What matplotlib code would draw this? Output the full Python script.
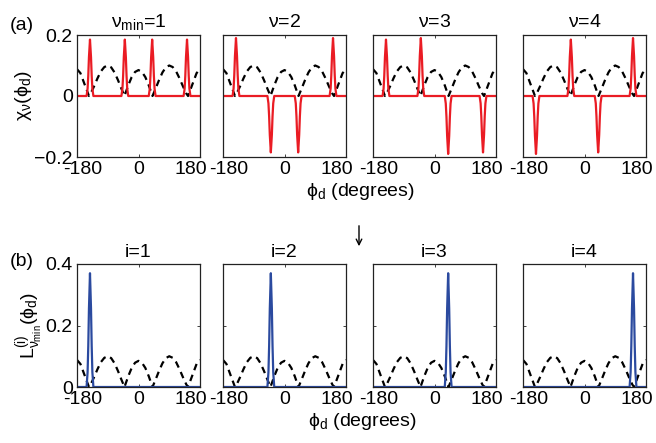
import matplotlib
matplotlib.use("Agg")
import matplotlib.pyplot as plt
import matplotlib.transforms as mtrans

plt.rcParams["font.family"] = ["Liberation Sans", "DejaVu Sans"]
plt.rcParams["mathtext.fontset"] = "custom"
plt.rcParams["mathtext.rm"] = "Liberation Sans"
plt.rcParams["mathtext.it"] = "Liberation Sans"
plt.rcParams["mathtext.default"] = "regular"

# Dashed reference curve (same in every panel)
phi_dash = [-180, -170, -160, -150, -145, -140, -130, -120, -110, -100, -90,
            -80, -70, -60, -50, -41, -30, -20, -10, 0, 10, 20, 30, 41, 50,
            60, 70, 80, 90, 100, 110, 120, 130, 140, 145, 150, 160, 170, 180]
val_dash = [0.088, 0.075, 0.045, 0.015, 0.0, 0.008, 0.032, 0.058, 0.081,
            0.095, 0.100, 0.094, 0.077, 0.052, 0.024, 0.0, 0.035, 0.062,
            0.079, 0.085, 0.079, 0.062, 0.035, 0.0, 0.024, 0.052, 0.077,
            0.094, 0.100, 0.095, 0.081, 0.058, 0.032, 0.008, 0.0, 0.015,
            0.045, 0.075, 0.088]

# Spike profile (offset in degrees, relative height)
spike_off = [-10, -7, -5, -3, 0, 3, 5, 7, 10]
spike_rel = [0, 0.13, 0.36, 0.69, 1, 0.69, 0.36, 0.13, 0]

# (a) chi_nu peaks
chi_centers = [-142, -40, 40, 142]
chi_titles = [r"$\nu_{min}$=1", r"$\nu$=2", r"$\nu$=3", r"$\nu$=4"]
chi_amps = [
    [0.185, 0.185, 0.185, 0.185],
    [0.19, -0.185, -0.185, 0.19],
    [0.185, 0.19, -0.19, -0.185],
    [-0.19, 0.185, -0.185, 0.19],
]

# (b) L peaks
L_titles = ["i=1", "i=2", "i=3", "i=4"]
L_centers = [-142, -40, 40, 142]
L_height = 0.37


def spike_line(centers, amps):
    xs, ys = [-180], [0]
    for c, a in zip(centers, amps):
        for o, r in zip(spike_off, spike_rel):
            xs.append(c + o)
            ys.append(a * r)
    xs.append(180)
    ys.append(0)
    return xs, ys


def style_axes(ax):
    ax.set_xlim(-180, 180)
    ax.set_xticks([-180, 0, 180])
    ax.set_xticklabels(["-180", "0", "180"])
    ax.tick_params(direction="in", length=2.5, width=0.6, top=True, right=True,
                   labelsize=14, pad=3, colors="#222222", labelcolor="black")
    for s in ax.spines.values():
        s.set_linewidth(0.9)
        s.set_color("#222222")
    # end labels sit a little inside the box, as in the original
    labs = ax.get_xticklabels()
    labs[0].set_transform(labs[0].get_transform() +
                          mtrans.ScaledTranslation(6 / 100, 0, fig.dpi_scale_trans))
    labs[2].set_transform(labs[2].get_transform() +
                          mtrans.ScaledTranslation(-9 / 100, 0, fig.dpi_scale_trans))


fig = plt.figure(figsize=(6.56, 4.43), dpi=100)
lefts = [77, 223, 373, 523]
W, H = 656.0, 443.0
aw = 123

red = "#ea1c24"
blue = "#2b4a9f"
dash = (0, (3, 2.2))

for k in range(4):
    ax = fig.add_axes([lefts[k] / W, 1 - 157 / H, aw / W, 122 / H])
    ax.plot(phi_dash, val_dash, color="black", lw=1.6, ls=dash)
    xs, ys = spike_line(chi_centers, chi_amps[k])
    ax.plot(xs, ys, color=red, lw=1.6)
    ax.set_ylim(-0.2, 0.2)
    ax.set_yticks([-0.2, 0, 0.2])
    style_axes(ax)
    if k == 0:
        ax.set_yticklabels(["\u22120.2", "0", "0.2"])
        ax.set_ylabel(r"$\chi_\nu(\phi_d)$", fontsize=14, labelpad=0)
    else:
        ax.set_yticklabels([])
    ax.set_title(chi_titles[k], fontsize=14, pad=6)

for k in range(4):
    ax = fig.add_axes([lefts[k] / W, 1 - 387 / H, aw / W, 123 / H])
    ax.plot(phi_dash, val_dash, color="black", lw=1.6, ls=dash)
    c = L_centers[k]
    xs = [-180] + [c + o for o in spike_off] + [180]
    ys = [0] + [L_height * r for r in spike_rel] + [0]
    ax.plot(xs, ys, color=blue, lw=1.6)
    ax.set_ylim(0, 0.4)
    ax.set_yticks([0, 0.2, 0.4])
    style_axes(ax)
    if k == 0:
        ax.set_yticklabels(["0", "0.2", "0.4"])
        ax.set_ylabel(r"$L^{(i)}_{\nu_{min}}(\phi_d)$", fontsize=14, labelpad=0)
    else:
        ax.set_yticklabels([])
    ax.set_title(L_titles[k], fontsize=14, pad=5)

fig.text(360 / W, 1 - 192 / H, r"$\phi_d$ (degrees)", fontsize=14,
         ha="center", va="center")
fig.text(362 / W, 1 - 422 / H, r"$\phi_d$ (degrees)", fontsize=14,
         ha="center", va="center")
fig.text(10 / W, 1 - 25 / H, "(a)", fontsize=14, ha="left", va="center")
fig.text(10 / W, 1 - 262 / H, "(b)", fontsize=14, ha="left", va="center")
fig.add_artist(matplotlib.patches.FancyArrowPatch(
    (359 / W, 1 - 223 / H), (359 / W, 1 - 249 / H),
    transform=fig.transFigure, arrowstyle="->", mutation_scale=10,
    lw=1.0, color="black"))

fig.savefig("out.png", dpi=100)
